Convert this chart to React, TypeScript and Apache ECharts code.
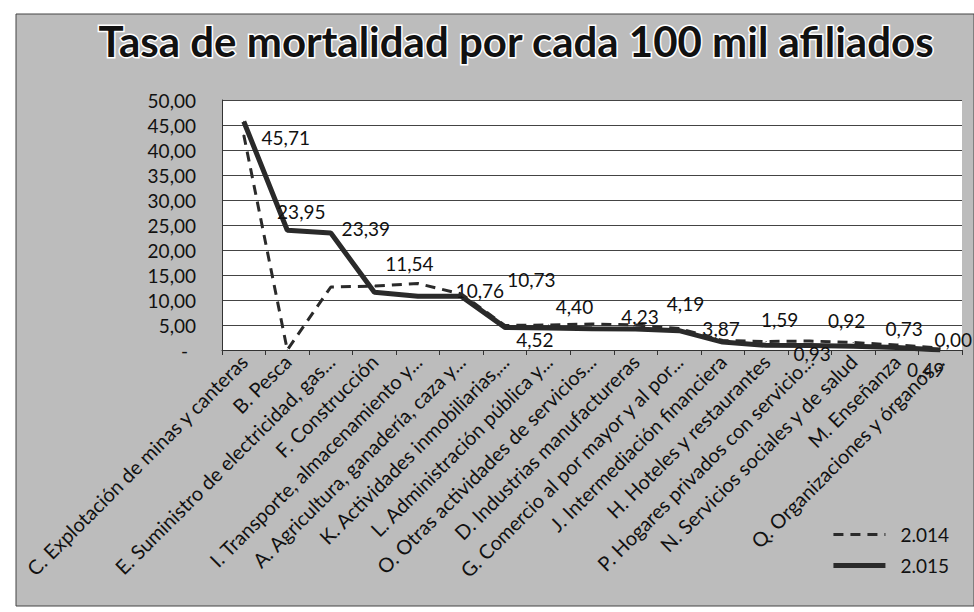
import React, { useEffect, useRef } from "react";
import * as echarts from "echarts";

const categories = [
  "C. Explotación de minas y canteras",
  "B. Pesca",
  "E. Suministro de electricidad, gas...",
  "F. Construcción",
  "I. Transporte, almacenamiento y...",
  "A. Agricultura, ganadería, caza y...",
  "K. Actividades inmobiliarias,...",
  "L. Administración pública y...",
  "O. Otras actividades de servicios...",
  "D. Industrias manufactureras",
  "G. Comercio al por mayor y al por...",
  "J. Intermediación financiera",
  "H. Hoteles y restaurantes",
  "P. Hogares privados con servicio...",
  "N. Servicios sociales y de salud",
  "M. Enseñanza",
  "Q. Organizaciones y órganos...",
];

const values2014 = [43.0, 0.0, 12.6, 12.8, 13.3, 11.2, 4.9, 5.0, 5.2, 5.0, 4.3, 1.9, 1.7, 1.8, 1.5, 1.0, 0.4];
const values2015 = [45.71, 23.95, 23.39, 11.54, 10.76, 10.73, 4.52, 4.4, 4.23, 4.19, 3.87, 1.59, 0.93, 0.92, 0.73, 0.49, 0.0];

const seriesNames = ["2.014", "2.015"];
const yTicks = { min: 0, max: 50, interval: 5 };

// label placement (style only) for 2015 data labels, relative to each point
const labelOffsets: [number, number][] = [
  [42, 16], [14, -19], [35, -5], [35, -29], [62, -6], [70, -17], [30, 12], [26, -22],
  [48, -12], [50, -26], [42, -2], [57, -23], [46, 8], [37, -25], [51, -18], [29, 22], [13, -11],
];

const fmt = (v: number) => v.toFixed(2).replace(".", ",");

export default function App() {
  const ref = useRef<HTMLDivElement>(null);
  useEffect(() => {
    if (!ref.current) return;
    const chart = echarts.init(ref.current, undefined, { renderer: "svg" });
    const font = "Lato";
    chart.setOption({
      animation: false,
      backgroundColor: "#ffffff",
      graphic: [
        {
          type: "rect",
          z: -10,
          shape: { x: 16, y: 14, width: 958, height: 592 },
          style: { fill: "#bcbcbc", stroke: "#444", lineWidth: 1 },
        },
      ],
      title: {
        text: "Tasa de mortalidad por cada 100 mil afiliados",
        left: 511,
        textAlign: "center",
        top: 15,
        textStyle: {
          fontFamily: font,
          fontWeight: "bold",
          fontSize: 42,
          color: "#111",
          textBorderColor: "#ffffff",
          textBorderWidth: 3,
        },
      },
      legend: {
        orient: "vertical",
        right: 20,
        top: 520,
        itemWidth: 52,
        itemHeight: 10,
        itemGap: 12,
        itemStyle: { opacity: 0 },
        textStyle: { fontFamily: font, fontSize: 19, color: "#111", padding: [0, 0, 0, 10] },
        data: [
          { name: seriesNames[0], lineStyle: { width: 3, type: [10, 7], color: "#2a2a2a" } },
          { name: seriesNames[1], lineStyle: { width: 5, color: "#2a2a2a" } },
        ],
      },
      grid: {
        left: 222,
        right: 12,
        top: 100,
        bottom: 262,
        show: true,
        backgroundColor: "#ffffff",
        borderWidth: 0,
      },
      xAxis: {
        type: "category",
        data: categories,
        boundaryGap: true,
        axisLine: { lineStyle: { color: "#333", width: 1 } },
        axisTick: { show: true, length: 5, lineStyle: { color: "#333" } },
        axisLabel: {
          rotate: 45,
          interval: 0,
          margin: 8,
          fontFamily: font,
          fontSize: 20,
          color: "#111",
        },
      },
      yAxis: {
        type: "value",
        min: yTicks.min,
        max: yTicks.max,
        interval: yTicks.interval,
        axisLine: { show: true, lineStyle: { color: "#333", width: 1 } },
        axisTick: { show: false },
        splitLine: { lineStyle: { color: "#444", width: 1 } },
        axisLabel: {
          margin: 26,
          fontFamily: font,
          fontSize: 19,
          color: "#111",
          formatter: (v: number) => (v === 0 ? "{z|-}" : fmt(v)),
          rich: { z: { fontFamily: font, fontSize: 19, color: "#111", padding: [0, 8, 0, 0] } },
        },
      },
      series: [
        {
          name: seriesNames[0],
          type: "line",
          data: values2014,
          symbol: "circle",
          symbolSize: 1,
          itemStyle: { color: "#2a2a2a" },
          lineStyle: { color: "#2a2a2a", width: 3, type: [10, 7] },
          z: 3,
        },
        {
          name: seriesNames[1],
          type: "line",
          data: values2015.map((v, i) => ({
            value: v,
            label: {
              show: true,
              position: "inside",
              offset: labelOffsets[i],
            },
          })),
          symbol: "circle",
          symbolSize: 1,
          itemStyle: { color: "#2a2a2a" },
          lineStyle: { color: "#2a2a2a", width: 5 },
          label: {
            show: true,
            fontFamily: font,
            fontSize: 19,
            color: "#111",
            formatter: (p: any) => fmt(p.value),
          },
          z: 2,
        },
      ],
    });
    return () => chart.dispose();
  }, []);
  return (
    <div
      ref={ref}
      style={{ position: "fixed", left: 0, top: 0, width: 974, height: 612 }}
    />
  );
}
